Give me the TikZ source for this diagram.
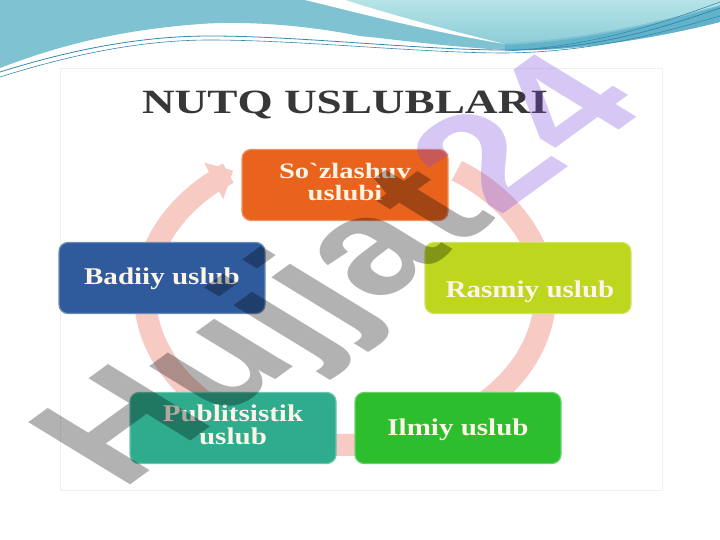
\documentclass[tikz,border=0pt]{standalone}
\usepackage{fontspec}
\setmainfont{Liberation Serif}
\newfontfamily\wmfont{Liberation Sans}
\usepackage{graphicx}
\usetikzlibrary{arrows.meta}
\definecolor{tealmid}{RGB}{127,195,211}
\definecolor{tealtop}{RGB}{182,228,230}
\definecolor{tealbot}{RGB}{140,205,216}
\definecolor{tealdark}{RGB}{98,178,202}
\definecolor{wave}{RGB}{52,138,176}
\definecolor{ringc}{RGB}{247,202,196}
\definecolor{boxtext}{RGB}{252,244,230}
\definecolor{orangeb}{RGB}{233,99,29}
\definecolor{blueb}{RGB}{47,90,156}
\definecolor{limeb}{RGB}{189,214,30}
\definecolor{tealb}{RGB}{47,172,142}
\definecolor{greenb}{RGB}{45,190,45}
\definecolor{titlec}{RGB}{55,55,55}
\definecolor{wmlav}{RGB}{122,72,222}
\newcommand{\boxtxt}[2][1.21]{\scalebox{#1}[1]{\begin{tabular}{@{}c@{}}#2\end{tabular}}}
\tikzset{
  stylebox/.style={rounded corners=9pt, minimum width=206pt, minimum height=71pt,
    inner sep=0pt, line width=1.2pt, text=boxtext,
    font=\bfseries\fontsize{24}{21}\selectfont},
  boxlabel/.style={text=boxtext, inner sep=0pt, font=\bfseries\fontsize{24}{21}\selectfont},
}
\begin{document}
\begin{tikzpicture}[x=1pt,y=-1pt]
\useasboundingbox (0,0) rectangle (720,540);
\fill[white] (0,0) rectangle (720,540);
% header waves
\fill[tealmid] (0,0) -- (720,0) -- (720,22) .. controls (640,42) and (560,52) .. (505,50)
  .. controls (440,46) and (400,40) .. (360,36) .. controls (300,24) and (240,21) .. (200,24)
  .. controls (120,30) and (60,45) .. (0,68) -- cycle;
\fill[tealdark] (505,45) .. controls (580,42) and (660,24) .. (720,6) -- (720,22)
  .. controls (640,42) and (560,52) .. (505,50) -- cycle;
\shade[top color=tealtop, bottom color=tealbot] (330,0) -- (720,0) -- (720,5)
  .. controls (660,22) and (580,40) .. (505,43) .. controls (420,30) and (340,8) .. (305,0) -- cycle;
\fill[white] (305,0) .. controls (340,8) and (420,30) .. (505,44)
  .. controls (430,26) and (370,8) .. (345,0) -- cycle;
\draw[wave, line width=0.8pt] (0,72) .. controls (70,50) and (140,36) .. (210,36)
  .. controls (300,36) and (420,50) .. (505,50) .. controls (600,50) and (670,25) .. (720,8);
\draw[wave, line width=0.6pt] (0,77) .. controls (70,55) and (140,40) .. (210,40)
  .. controls (300,40) and (420,53) .. (505,53) .. controls (600,52) and (670,30) .. (720,16);
\draw[wave, line width=0.6pt] (505,51) .. controls (600,46) and (670,20) .. (720,2);
% picture frame
\draw[black!6, line width=0.8pt] (60,68) rectangle (662,490);
% title
\node[text=titlec] (title) at (345,105)
  {\scalebox{1.33}[1]{\bfseries\fontsize{34}{34}\selectfont NUTQ USLUBLARI}};
% ring
\draw[ringc, line width=22pt, -{Triangle[width=40pt,length=22pt]}]
  plot[domain=-56:236, samples=120, smooth] ({345+200*cos(\x)},{295+150*sin(\x)});
% boxes
\node[stylebox, fill=orangeb, draw=orangeb!70!white,
  font=\bfseries\fontsize{22}{21}\selectfont] (soz) at (345,185)
  {\boxtxt[1.3]{So\textasciigrave zlashuv\\uslubi}};
\node[stylebox, fill=blueb, draw=blueb!70!white] (badiy) at (162,278) {};
\node[boxlabel] (badiyt) at (162,279) {\boxtxt{Badiiy uslub}};
\node[stylebox, fill=limeb, draw=limeb!70!white] (rasmiy) at (528,278) {};
\node[boxlabel] (rasmiyt) at (530,292) {\boxtxt{Rasmiy uslub}};
\node[stylebox, fill=tealb, draw=tealb!70!white] (publ) at (233,428)
  {\boxtxt{Publitsistik\\uslub}};
\node[stylebox, fill=greenb, draw=greenb!70!white] (ilmiy) at (458,428) {};
\node[boxlabel] (ilmiyt) at (458,430) {\boxtxt{Ilmiy uslub}};
% watermark
\begin{scope}[xscale=1.5]
\node[rotate=47.5, transform shape, anchor=mid, text opacity=0.3,
  font=\wmfont\bfseries\fontsize{134}{134}\selectfont] (wm) at (255.3,298)
  {\color{black}Hujjat\color{wmlav}24};
\end{scope}
\end{tikzpicture}
\end{document}
